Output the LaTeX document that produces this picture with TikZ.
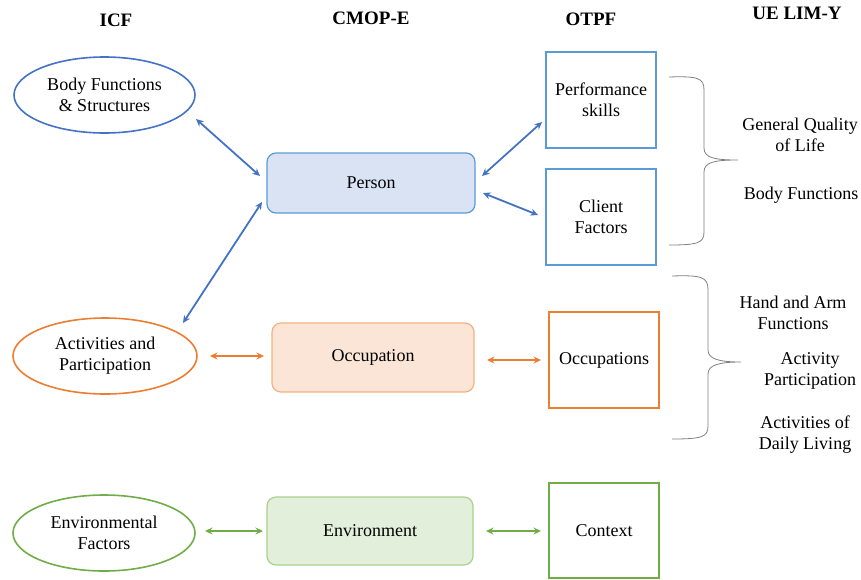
\documentclass[tikz,border=0pt]{standalone}
\usepackage{fontspec}
\setmainfont{Liberation Serif}
\usetikzlibrary{shapes.geometric,arrows.meta}

\definecolor{icfblue}{RGB}{68,114,196}
\definecolor{boxblue}{RGB}{91,155,213}
\definecolor{fillblue}{RGB}{218,227,243}
\definecolor{icforange}{RGB}{237,125,49}
\definecolor{boxorange}{RGB}{244,177,131}
\definecolor{fillorange}{RGB}{251,229,214}
\definecolor{icfgreen}{RGB}{112,173,71}
\definecolor{boxgreen}{RGB}{169,209,142}
\definecolor{fillgreen}{RGB}{226,239,218}
\definecolor{bracegray}{RGB}{128,128,128}

\tikzset{
  txt/.style={font=\fontsize{18}{21}\selectfont, align=center, text=black},
  header/.style={font=\fontsize{19}{22}\selectfont\bfseries, text=black},
  icfell/.style={ellipse, draw, line width=1.6pt, inner sep=0pt, txt},
  cmopbox/.style={rectangle, rounded corners=9pt, draw, line width=1.2pt, inner sep=0pt, txt},
  otpfbox/.style={rectangle, draw, line width=1.6pt, inner sep=0pt, txt},
  link/.style={line width=1.8pt, {Stealth[length=7.5pt,width=7pt]}-{Stealth[length=7.5pt,width=7pt]}},
  bracket/.style={draw=bracegray, line width=0.8pt},
}

\begin{document}
\begin{tikzpicture}[x=1pt,y=-1pt]
\useasboundingbox (0,0) rectangle (861,579);

% column headers
\node[header] (hicf)  at (116,20.5) {ICF};
\node[header] (hcmop) at (371,18.5) {CMOP-E};
\node[header] (hotpf) at (591,19) {OTPF};
\node[header] (hue)   at (797,13) {UE LIM-Y};

% ICF components
\node[icfell, draw=icfblue, minimum width=181pt, minimum height=76pt] (body) at (104.5,95) {Body Functions\\\& Structures};
\node[icfell, draw=icforange, minimum width=184pt, minimum height=76pt] (act) at (105,356) {Activities and\\Participation};
\node[icfell, draw=icfgreen, minimum width=182pt, minimum height=76pt] (envf) at (104,533) {Environmental\\Factors};

% CMOP-E components
\node[cmopbox, draw=boxblue, fill=fillblue, minimum width=208pt, minimum height=60pt] (person) at (371,183) {Person};
\node[cmopbox, draw=boxorange, fill=fillorange, minimum width=202pt, minimum height=69pt] (occ) at (373,357.5) {Occupation};
\node[cmopbox, draw=boxgreen, fill=fillgreen, minimum width=206pt, minimum height=68pt] (env) at (370,531) {Environment};

% OTPF components
\node[otpfbox, draw=boxblue, minimum width=110pt, minimum height=96pt] (perf) at (601,100) {Performance\\skills};
\node[otpfbox, draw=boxblue, minimum width=110pt, minimum height=96pt] (client) at (601,217) {Client\\Factors};
\node[otpfbox, draw=icforange, minimum width=110pt, minimum height=96pt] (occs) at (604,360) {Occupations};
\node[otpfbox, draw=icfgreen, minimum width=110pt, minimum height=95pt] (ctx) at (604,530.5) {Context};

% arrow end points
\coordinate (b1) at (196,119);  \coordinate (p1) at (260,176);
\coordinate (a1) at (183,323);  \coordinate (p2) at (262,202);
\coordinate (p3) at (482,176);  \coordinate (s1) at (542,122);
\coordinate (p4) at (483,193);  \coordinate (c1) at (538,215);
\coordinate (a2) at (210,356);  \coordinate (o1) at (264,356);
\coordinate (o2) at (487,360);  \coordinate (q1) at (541,360);
\coordinate (e1) at (205,531);  \coordinate (n1) at (263,531);
\coordinate (n2) at (486,531);  \coordinate (x1) at (541,531);

\draw[link, icfblue] (b1) -- (p1);
\draw[link, icfblue] (a1) -- (p2);
\draw[link, icfblue] (p3) -- (s1);
\draw[link, icfblue] (p4) -- (c1);
\draw[link, icforange] (a2) -- (o1);
\draw[link, icforange] (o2) -- (q1);
\draw[link, icfgreen] (e1) -- (n1);
\draw[link, icfgreen] (n2) -- (x1);

% braces
\draw[bracket] (669,77) .. controls (698,76) and (704,78) .. (704,90)
  -- (704,148) .. controls (704,158) and (715,160) .. (738,160)
  .. controls (715,160) and (704,162) .. (704,172)
  -- (704,232) .. controls (704,243) and (698,245) .. (669,245);
\draw[bracket] (672,276) .. controls (702,275) and (708,277) .. (708,290)
  -- (708,350) .. controls (708,359) and (719,362) .. (741,362)
  .. controls (719,362) and (708,365) .. (708,374)
  -- (708,426) .. controls (708,437) and (702,439) .. (672,439);

% UE LIM-Y domains
\node[txt] (gql) at (800,135) {General Quality\\of Life};
\node[txt] (bf)  at (801,195) {Body Functions};
\node[txt] (haf) at (793,313) {Hand and Arm\\Functions};
\node[txt] (ap)  at (810,371) {Activity\\Participation};
\node[txt] (adl) at (805,435) {Activities of\\Daily Living};
\end{tikzpicture}
\end{document}
